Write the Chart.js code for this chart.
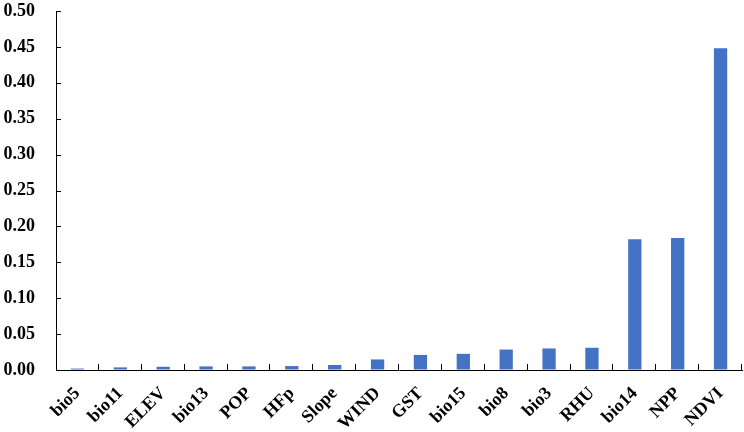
<!DOCTYPE html>
<html>
<head>
<meta charset="utf-8">
<script src="https://cdn.jsdelivr.net/npm/chart.js@4/dist/chart.umd.min.js"></script>
<style>
  html, body { margin: 0; padding: 0; background: #fff; }
  #wrap { width: 744px; height: 432px; }
</style>
</head>
<body>
<div id="wrap"><canvas id="chart"></canvas></div>
<script>
// data
const categories = ['bio5', 'bio11', 'ELEV', 'bio13', 'POP', 'HFp', 'Slope', 'WIND',
  'GST', 'bio15', 'bio8', 'bio3', 'RHU', 'bio14', 'NPP', 'NDVI'];
const importance = [0.002, 0.0036, 0.0045, 0.005, 0.005, 0.0055, 0.007, 0.0147,
  0.021, 0.0225, 0.0285, 0.030, 0.031, 0.182, 0.184, 0.448];
const yTicks = [0, 0.05, 0.10, 0.15, 0.20, 0.25, 0.30, 0.35, 0.40, 0.45, 0.50];

const font = { family: '"Liberation Serif", "Times New Roman", serif', size: 18, weight: 'bold' };

// small ticks pointing into the plot, like the original
const innerTicks = {
  id: 'innerTicks',
  afterDraw( chart ) {
    const { ctx, chartArea, scales } = chart;
    ctx.save();
    ctx.strokeStyle = '#000';
    ctx.lineWidth = 1;
    ctx.beginPath();
    for ( const v of yTicks ) {
      const y = Math.round( scales.y.getPixelForValue( v ) ) + 0.5;
      ctx.moveTo( chartArea.left, y );
      ctx.lineTo( chartArea.left + 5, y );
    }
    const step = ( chartArea.right - chartArea.left ) / categories.length;
    for ( let i = 1; i <= categories.length; i++ ) {
      const x = Math.round( chartArea.left + i * step ) - 0.5;
      ctx.moveTo( x, chartArea.bottom );
      ctx.lineTo( x, chartArea.bottom - 6 );
    }
    ctx.stroke();
    ctx.restore();
  }
};

new Chart( document.getElementById('chart'), {
  type: 'bar',
  data: {
    labels: categories,
    datasets: [{
      data: importance,
      backgroundColor: '#4472C4',
      borderWidth: 0,
      barPercentage: 0.31,
      categoryPercentage: 1
    }]
  },
  options: {
    responsive: true,
    maintainAspectRatio: false,
    animation: false,
    layout: { padding: { top: 0, right: 2, left: 0, bottom: 0 } },
    plugins: {
      legend: { display: false },
      tooltip: { enabled: false }
    },
    scales: {
      x: {
        grid: { display: true, drawOnChartArea: false, tickLength: 8, tickColor: 'rgba(0,0,0,0)' },
        border: { display: true, color: '#000', width: 1 },
        ticks: {
          color: '#000',
          font: font,
          minRotation: 45,
          maxRotation: 45,
          autoSkip: false,
          padding: 5
        },
        afterFit( scale ) { scale.height = 62; }
      },
      y: {
        min: 0,
        max: 0.5,
        grid: { display: true, drawOnChartArea: false, tickLength: 19, tickColor: 'rgba(0,0,0,0)' },
        border: { display: true, color: '#000', width: 1 },
        afterBuildTicks( scale ) {
          scale.ticks = yTicks.map( v => ({ value: v }) );
        },
        ticks: {
          color: '#000',
          font: { ...font, lineHeight: 1 },
          padding: 2,
          callback: v => Number( v ).toFixed(2)
        },
        afterFit( scale ) { scale.width = 56; }
      }
    }
  },
  plugins: [ innerTicks ]
});
</script>
</body>
</html>
